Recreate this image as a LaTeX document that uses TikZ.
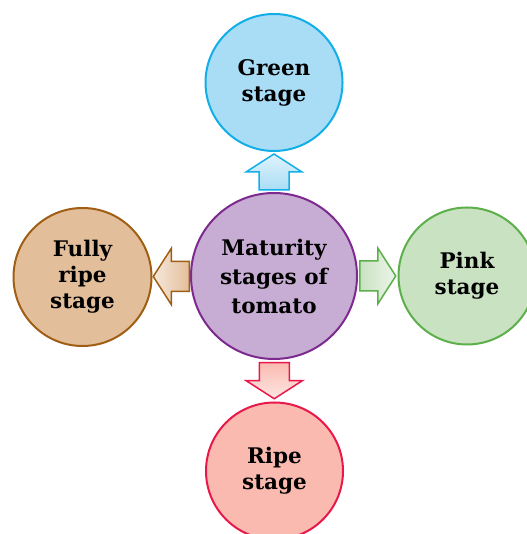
\documentclass[tikz,border=0pt]{standalone}
\usepackage{fontspec}
\setmainfont{DejaVu Serif}
\usetikzlibrary{calc}

\definecolor{greenfill}{HTML}{A8DDF5}
\definecolor{greenline}{HTML}{12AEE8}
\definecolor{matfill}{HTML}{C7ADD3}
\definecolor{matline}{HTML}{7D2A8F}
\definecolor{fullfill}{HTML}{E3BE9A}
\definecolor{fullline}{HTML}{A05E14}
\definecolor{pinkfill}{HTML}{C9E2C1}
\definecolor{pinkline}{HTML}{5CAF4A}
\definecolor{ripefill}{HTML}{FABAB0}
\definecolor{ripeline}{HTML}{E8194A}

% 块状箭头: 起点, 终点, 方向角, 填充色, 边线色
\newcommand{\stagearrow}[5]{%
  \pgfmathtruncatemacro{\shadeang}{#3-90}%
  \begin{scope}[shift={($(#1)!0.5!(#2)$)}, rotate=#3]
    \draw[arrowline, draw=#5, top color=#4!35!white, bottom color=#4, shading angle=\shadeang]
      (-18,-15) -- (0,-15) -- (0,-28) -- (18,0) -- (0,28) -- (0,15) -- (-18,15) -- cycle;
  \end{scope}}

\begin{document}
\begin{tikzpicture}[x=1pt, y=1pt,
    stage/.style={circle, line width=2pt, align=center, inner sep=0pt,
      font=\fontsize{21.5}{26}\selectfont\bfseries},
    arrowline/.style={line width=1.5pt, line join=miter}]
  \useasboundingbox (0,0) rectangle (526,534);

  % 中心圆
  \node[stage, fill=matfill, draw=matline, minimum size=166pt,
    font=\fontsize{21.5}{29}\selectfont\bfseries] (mat) at (274,258)
    {Maturity\\stages of\\tomato};

  % 四个阶段
  \node[stage, fill=greenfill, draw=greenline, minimum size=137pt] (green) at (274,451.5) {Green\\stage};
  \node[stage, fill=fullfill, draw=fullline, minimum size=138pt] (fully) at (82.5,257) {Fully\\ripe\\stage};
  \node[stage, fill=pinkfill, draw=pinkline, minimum size=137pt] (pink) at (467,258) {Pink\\stage};
  \node[stage, fill=ripefill, draw=ripeline, minimum size=137pt] (ripe) at (274.5,63) {Ripe\\stage};

  % 箭头
  \stagearrow{mat.north}{green.south}{90}{greenfill}{greenline}
  \stagearrow{mat.west}{fully.east}{180}{fullfill}{fullline}
  \stagearrow{mat.east}{pink.west}{0}{pinkfill}{pinkline}
  \stagearrow{mat.south}{ripe.north}{270}{ripefill}{ripeline}
\end{tikzpicture}
\end{document}
